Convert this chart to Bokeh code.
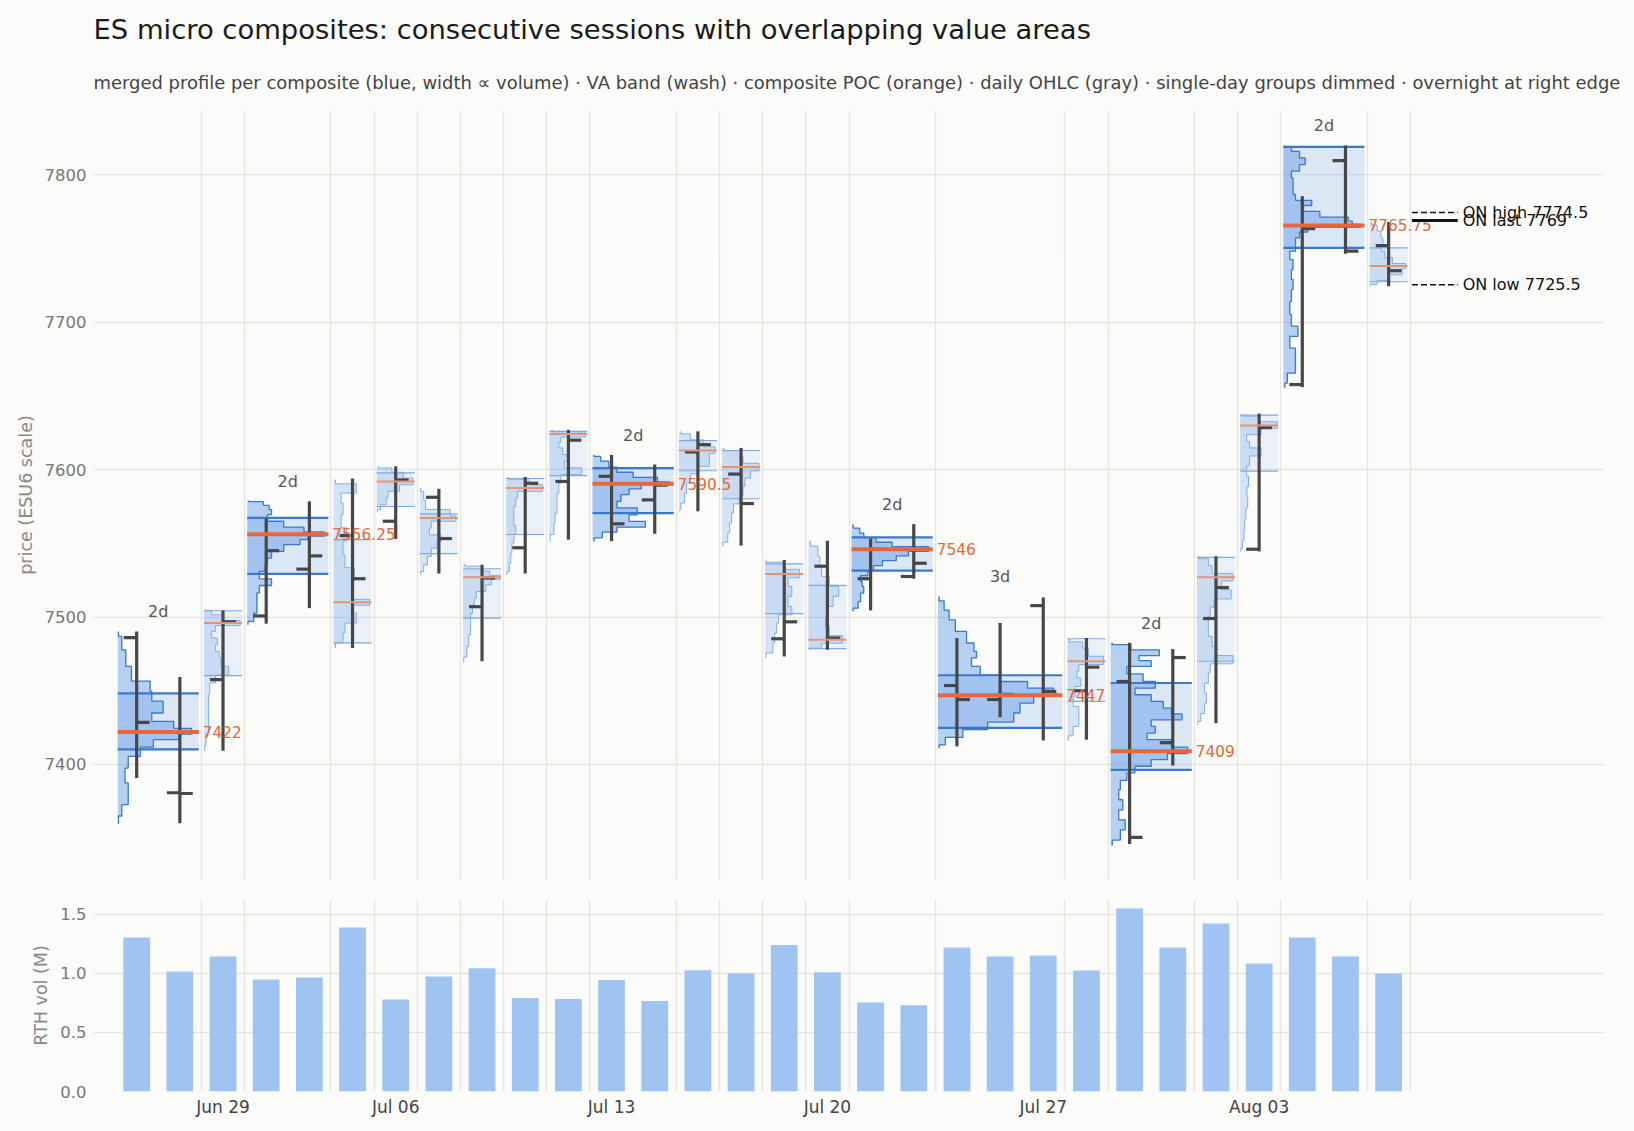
import numpy as np
from bokeh.plotting import figure
from bokeh.models import Range1d, FixedTicker, Title, PrintfTickFormatter, Spacer
from bokeh.layouts import column, row
from bokeh.embed import file_html
from bokeh.resources import INLINE
from bokeh.core.properties import value

TITLE = "ES micro composites: consecutive sessions with overlapping value areas"
SUBTITLE = ("merged profile per composite (blue, width \u221d volume) \u00b7 VA band (wash) \u00b7 "
            "composite POC (orange) \u00b7 daily OHLC (gray) \u00b7 single-day groups dimmed \u00b7 "
            "overnight at right edge")

# ---------------- sessions (RTH) ----------------
sessions = ["Jun 25", "Jun 26", "Jun 29", "Jun 30", "Jul 01", "Jul 02", "Jul 06", "Jul 07", "Jul 08",
            "Jul 09", "Jul 10", "Jul 13", "Jul 14", "Jul 15", "Jul 16", "Jul 17", "Jul 20", "Jul 21",
            "Jul 22", "Jul 23", "Jul 24", "Jul 27", "Jul 28", "Jul 29", "Jul 30", "Jul 31", "Aug 03",
            "Aug 04", "Aug 05", "Aug 06"]
opens = [7486, 7380.75, 7457.5, 7500.75, 7532.5, 7555.25, 7565, 7581.25, 7507, 7547, 7592, 7595.5,
         7579.5, 7612, 7597, 7485.25, 7534.5, 7526, 7527.5, 7453.5, 7444, 7507.75, 7450, 7456.25,
         7414.75, 7499, 7546, 7657.75, 7809.75, 7752]
highs = [7490.25, 7459.25, 7504.5, 7566.75, 7578.5, 7594, 7602.25, 7587, 7535.5, 7595, 7627, 7610,
         7603.5, 7626, 7614.75, 7538.75, 7551.75, 7553.25, 7563, 7485.75, 7496, 7513.25, 7485.75,
         7482.5, 7478.25, 7541.25, 7638, 7785.5, 7820, 7768]
lows = [7390.75, 7360, 7409.25, 7495.5, 7506, 7479, 7553, 7529.5, 7470, 7529.5, 7552.5, 7551.5,
        7556.5, 7571.75, 7548.5, 7473.25, 7477.75, 7504.5, 7526, 7412.25, 7432, 7416.25, 7416.75,
        7346, 7399.25, 7428, 7544.5, 7656, 7746.5, 7724.5]
closes = [7428.5, 7380.25, 7496.75, 7545, 7541.5, 7526, 7593, 7553.25, 7526.5, 7590.75, 7620, 7563.25,
          7589.5, 7617, 7577, 7496.75, 7485.75, 7546, 7536.5, 7444, 7447.5, 7449.5, 7466, 7350.5,
          7472.5, 7520, 7628.5, 7763.5, 7748.25, 7735]
rth_vol_m = [1.305, 1.017, 1.144, 0.949, 0.966, 1.39, 0.78, 0.975, 1.045, 0.792, 0.783, 0.944, 0.766,
             1.028, 1.003, 1.241, 1.01, 0.755, 0.73, 1.22, 1.144, 1.153, 1.025, 1.551, 1.22, 1.424,
             1.085, 1.305, 1.144, 1.0]

week_ticks = [2, 6, 11, 16, 21, 26]
week_labels = ["Jun 29", "Jul 06", "Jul 13", "Jul 20", "Jul 27", "Aug 03"]
price_ticks = [7400, 7500, 7600, 7700, 7800]
vol_ticks = [0.0, 0.5, 1.0, 1.5]

# ---------------- composites ----------------
grp_first = [0, 2, 3, 5, 6, 7, 8, 9, 10, 11, 13, 14, 15, 16, 17, 19, 22, 23, 25, 26, 27, 29]
grp_last = [1, 2, 4, 5, 6, 7, 8, 9, 10, 12, 13, 14, 15, 16, 18, 21, 22, 24, 25, 26, 28, 29]
grp_vah = [7448.25, 7504.25, 7567.25, 7552.5, 7597.75, 7570, 7532.75, 7594, 7626, 7601, 7619.75,
           7613, 7536, 7521.5, 7554, 7460.5, 7485.25, 7455.25, 7540.5, 7637, 7819, 7750.5]
grp_val = [7410.25, 7460.25, 7529.25, 7482.5, 7575, 7543, 7499.25, 7556, 7596, 7570.5, 7599.25,
           7580.25, 7502.25, 7478.5, 7531.5, 7424.75, 7442.75, 7396.25, 7470, 7599, 7750.5, 7727.5]
grp_poc = [7422, 7496, 7556.25, 7510, 7592, 7567.25, 7527, 7587.5, 7624.25, 7590.5, 7613, 7601.75,
           7529.25, 7484.5, 7546, 7447, 7470, 7409, 7527, 7630, 7765.75, 7738.25]

# merged volume profiles: price level -> relative width (1 = full composite width)
pf01_px = [7490.25, 7483.5, 7472, 7461, 7452, 7447.5, 7438.25, 7431.5, 7427, 7422, 7419, 7414.5, 7409,
           7402, 7393, 7382, 7375, 7370.5, 7359.5]
pf01_w = [0.01, 0.05, 0.10, 0.17, 0.40, 0.42, 0.56, 0.42, 0.69, 0.91, 0.77, 0.44, 0.28, 0.13, 0.09,
          0.13, 0.13, 0.05, 0.01]
pf02_px = [7505, 7503.75, 7499.25, 7496, 7492.5, 7488, 7483.5, 7479, 7474.5, 7470, 7463, 7458.5, 7452,
           7443, 7434, 7425, 7416, 7409]
pf02_w = [0.05, 0.2, 0.5, 0.95, 0.3, 0.2, 0.35, 0.3, 0.4, 0.45, 0.65, 0.3, 0.15, 0.12, 0.12, 0.12,
          0.05, 0.02]
pf03_px = [7579, 7577.5, 7574, 7571.75, 7567.25, 7562.75, 7559.25, 7556.25, 7553.5, 7551.5, 7546.75,
           7542.25, 7537.75, 7533.25, 7528.75, 7523, 7519.75, 7513, 7506, 7499.25, 7494.75]
pf03_w = [0.02, 0.2, 0.27, 0.3, 0.25, 0.45, 0.7, 0.95, 0.75, 0.65, 0.45, 0.3, 0.25, 0.22, 0.15, 0.3,
          0.15, 0.12, 0.12, 0.08, 0.01]
pf04_px = [7593.25, 7587.5, 7580.75, 7574, 7565, 7556, 7547, 7538, 7529, 7520, 7514, 7510, 7506,
           7499.25, 7492.5, 7485.75, 7479]
pf04_w = [0.05, 0.6, 0.2, 0.25, 0.2, 0.35, 0.25, 0.3, 0.55, 0.5, 0.5, 0.95, 0.5, 0.6, 0.3, 0.25, 0.05]
pf05_px = [7602.25, 7600, 7596.5, 7592, 7587.5, 7583, 7578.5, 7574, 7571.5]
pf05_w = [0.05, 0.4, 0.7, 0.95, 0.6, 0.3, 0.25, 0.1, 0.02]
pf06_px = [7587.5, 7583, 7576, 7570, 7567.25, 7562.75, 7558, 7553.5, 7549, 7544.5, 7537.75, 7533,
           7528.75]
pf06_w = [0.02, 0.1, 0.15, 0.8, 0.95, 0.3, 0.25, 0.55, 0.45, 0.3, 0.2, 0.1, 0.02]
pf07_px = [7536, 7533, 7529.5, 7527, 7524, 7519.75, 7515, 7510.75, 7506, 7499.25, 7492.5, 7483.5,
           7476.75, 7469]
pf07_w = [0.05, 0.5, 0.7, 0.98, 0.75, 0.6, 0.35, 0.3, 0.25, 0.2, 0.2, 0.15, 0.1, 0.02]
pf08_px = [7595, 7592, 7587.5, 7583, 7578.5, 7571.75, 7565, 7559, 7553.5, 7547, 7540, 7533, 7528.75]
pf08_w = [0.05, 0.6, 0.95, 0.3, 0.25, 0.2, 0.2, 0.25, 0.2, 0.15, 0.12, 0.08, 0.02]
pf09_px = [7627, 7624.25, 7620, 7617, 7612.5, 7608, 7603.5, 7599, 7594.25, 7587.5, 7580.75, 7574,
           7567, 7560.5, 7551.5]
pf09_w = [0.1, 0.95, 0.3, 0.25, 0.35, 0.5, 0.4, 0.85, 0.3, 0.25, 0.2, 0.2, 0.15, 0.12, 0.02]
pf10_px = [7610, 7608, 7603.5, 7600, 7596.5, 7593, 7590.5, 7588.75, 7585.25, 7580.75, 7576.25,
           7571.75, 7567, 7562.75, 7559.25, 7556, 7551.5]
pf10_w = [0.02, 0.1, 0.2, 0.3, 0.5, 0.8, 0.95, 0.6, 0.45, 0.35, 0.3, 0.55, 0.45, 0.65, 0.3, 0.12, 0.02]
pf11_px = [7626, 7622.5, 7618, 7613, 7609, 7604.5, 7600, 7594.25, 7587.5, 7580.75, 7574, 7571.75]
pf11_w = [0.05, 0.3, 0.65, 0.95, 0.8, 0.8, 0.5, 0.3, 0.2, 0.15, 0.05, 0.02]
pf12_px = [7614.75, 7611, 7606.75, 7601.75, 7596.5, 7592, 7585.25, 7579.5, 7574, 7567.25, 7560.5,
           7553.5, 7548]
pf12_w = [0.05, 0.5, 0.55, 0.97, 0.75, 0.6, 0.55, 0.45, 0.3, 0.25, 0.2, 0.15, 0.02]
pf13_px = [7539, 7535.5, 7529.25, 7524, 7517.5, 7510.5, 7503.75, 7499.25, 7492.5, 7485.75, 7479,
           7472.25]
pf13_w = [0.02, 0.5, 0.9, 0.6, 0.7, 0.6, 0.7, 0.35, 0.3, 0.25, 0.2, 0.02]
pf14_px = [7551.75, 7544.5, 7537.75, 7531, 7524.25, 7517.5, 7510.5, 7503.75, 7497, 7490.25, 7484.5,
           7480, 7477.75]
pf14_w = [0.05, 0.25, 0.3, 0.35, 0.55, 0.8, 0.65, 0.5, 0.45, 0.55, 0.9, 0.35, 0.05]
pf15_px = [7562.75, 7558, 7555.75, 7552, 7549.5, 7546, 7543, 7540, 7536.5, 7533.25, 7529.5, 7526.5,
           7522, 7519.5, 7513, 7508, 7504]
pf15_w = [0.02, 0.1, 0.15, 0.3, 0.5, 0.95, 0.7, 0.55, 0.38, 0.27, 0.2, 0.11, 0.13, 0.15, 0.11, 0.08,
          0.02]
pf16_px = [7514, 7508, 7501.5, 7494.75, 7485.75, 7479, 7474.5, 7470, 7463, 7458.5, 7454, 7449.5,
           7447.5, 7445, 7438.25, 7431.5, 7426, 7421.25, 7415.5, 7411]
pf16_w = [0.01, 0.05, 0.09, 0.14, 0.23, 0.29, 0.31, 0.27, 0.34, 0.5, 0.72, 0.93, 0.95, 0.77, 0.66,
          0.61, 0.4, 0.2, 0.06, 0.01]
pf17_px = [7485.25, 7481, 7476.75, 7470, 7465.5, 7461, 7456.25, 7449.5, 7442.75, 7436, 7429, 7422.5,
           7416.25]
pf17_w = [0.05, 0.4, 0.55, 0.95, 0.3, 0.25, 0.35, 0.2, 0.15, 0.3, 0.3, 0.15, 0.02]
pf18_px = [7482.5, 7480, 7475.5, 7472, 7468.75, 7464.25, 7458.5, 7454, 7449.5, 7445, 7440.5, 7436,
           7432.5, 7428, 7423.5, 7419, 7414.5, 7409, 7405.5, 7401, 7396.5, 7392, 7386.25, 7379.5,
           7372.5, 7365.75, 7359, 7352.25, 7345]
pf18_w = [0.02, 0.25, 0.6, 0.35, 0.5, 0.2, 0.4, 0.55, 0.3, 0.5, 0.65, 0.75, 0.88, 0.5, 0.55, 0.45,
          0.75, 0.95, 0.7, 0.5, 0.3, 0.2, 0.12, 0.1, 0.15, 0.1, 0.18, 0.12, 0.02]
pf19_px = [7541.25, 7537.75, 7532, 7527, 7522, 7515, 7509.5, 7504, 7497, 7490.25, 7483.5, 7476.75,
           7471, 7465.5, 7458.5, 7451.75, 7445, 7438, 7431.25, 7427]
pf19_w = [0.05, 0.3, 0.4, 0.95, 0.65, 0.9, 0.45, 0.35, 0.3, 0.3, 0.4, 0.5, 0.95, 0.35, 0.3, 0.2, 0.25,
          0.2, 0.1, 0.02]
pf20_px = [7637.5, 7635, 7630, 7626, 7621.5, 7617, 7612.5, 7606, 7599, 7592, 7585, 7578, 7570, 7562,
           7555, 7549, 7544.5]
pf20_w = [0.05, 0.5, 0.98, 0.55, 0.17, 0.25, 0.55, 0.25, 0.17, 0.22, 0.18, 0.2, 0.15, 0.12, 0.1, 0.06,
          0.02]
pf21_px = [7820, 7818.25, 7813.75, 7809.25, 7804.75, 7800.25, 7795.75, 7789, 7784.5, 7781, 7777.5,
           7773, 7769.75, 7767.5, 7765.75, 7763, 7759.5, 7755, 7750.5, 7746, 7739, 7732.5, 7725.5,
           7718.75, 7709.75, 7700.75, 7694, 7687, 7678, 7669, 7662, 7655.5]
pf21_w = [0.02, 0.1, 0.2, 0.27, 0.2, 0.1, 0.12, 0.12, 0.15, 0.35, 0.25, 0.45, 0.8, 0.85, 0.95, 0.3,
          0.2, 0.15, 0.15, 0.08, 0.12, 0.1, 0.12, 0.1, 0.08, 0.1, 0.18, 0.08, 0.15, 0.15, 0.05, 0.02]
pf22_px = [7768, 7764, 7759.5, 7755, 7750.5, 7746, 7741.5, 7738.25, 7734.5, 7730, 7726.75, 7724.5]
pf22_w = [0.05, 0.2, 0.3, 0.35, 0.3, 0.4, 0.6, 0.95, 0.85, 0.5, 0.2, 0.02]

profile_px = [pf01_px, pf02_px, pf03_px, pf04_px, pf05_px, pf06_px, pf07_px, pf08_px, pf09_px, pf10_px,
              pf11_px, pf12_px, pf13_px, pf14_px, pf15_px, pf16_px, pf17_px, pf18_px, pf19_px, pf20_px,
              pf21_px, pf22_px]
profile_w = [pf01_w, pf02_w, pf03_w, pf04_w, pf05_w, pf06_w, pf07_w, pf08_w, pf09_w, pf10_w, pf11_w,
             pf12_w, pf13_w, pf14_w, pf15_w, pf16_w, pf17_w, pf18_w, pf19_w, pf20_w, pf21_w, pf22_w]

# overnight
on_high = 7774.5
on_last = 7769
on_low = 7725.5

# ---------------- style ----------------
FONT = "DejaVu Sans"
BG = "#fbfbf9"
GRID = "#e6e5e0"
BLUE = "#3d85e6"
HALF = 0.44
TICK = 0.3

x_range = Range1d(-1, 34)
boundaries = [l + 0.5 for l in grp_last]


def style_axes(fig):
    fig.background_fill_color = BG
    fig.border_fill_color = BG
    fig.outline_line_color = None
    for ax in fig.axis:
        ax.axis_line_color = None
        ax.major_tick_line_color = None
        ax.minor_tick_line_color = None
        ax.major_tick_out = 0
        ax.major_tick_in = 0
        ax.minor_tick_out = 0
        ax.minor_tick_in = 0
        ax.major_label_text_font = FONT
        ax.axis_label_text_font = FONT
        ax.axis_label_text_font_style = "normal"
    for g in fig.grid:
        g.grid_line_color = GRID
        g.grid_line_width = 1.4
    fig.xgrid.ticker = FixedTicker(ticks=boundaries)


p = figure(frame_width=1511, frame_height=769, x_range=x_range, y_range=Range1d(7321.9, 7843.7),
           x_axis_location=None, output_backend="svg", toolbar_location=None,
           min_border_left=70, min_border_right=22, min_border_bottom=10, min_border_top=0)
style_axes(p)
p.yaxis.ticker = FixedTicker(ticks=price_ticks)
p.ygrid.ticker = FixedTicker(ticks=price_ticks)
p.yaxis.axis_label = "price (ESU6 scale)"
p.yaxis.axis_label_text_font_size = "17.5px"
p.yaxis.axis_label_text_color = "#888888"
p.yaxis.axis_label_standoff = 6
p.yaxis.major_label_text_font_size = "16.5px"
p.yaxis.major_label_text_color = "#777777"
p.yaxis.major_label_standoff = 7

# spacer (closest to the frame), subtitle, title
p.add_layout(Title(text=" ", text_font=FONT, text_font_size="1px", standoff=1), "above")
p.add_layout(Title(text=SUBTITLE, text_font=FONT, text_font_size="17.95px", text_font_style="normal",
                   text_color="#444444", standoff=28), "above")
p.add_layout(Title(text=TITLE, text_font=FONT, text_font_size="27.4px", text_font_style="normal",
                   text_color="#1a1a1a", standoff=22), "above")

ng = len(grp_first)
left = [f - HALF for f in grp_first]
right = [l + HALF for l in grp_last]
multi = [l > f for f, l in zip(grp_first, grp_last)]


def step_outline(px, w, x0, span):
    order = np.argsort(px)
    pr = np.asarray(px, float)[order]
    ww = np.asarray(w, float)[order]
    edges = np.concatenate([[pr[0]], (pr[:-1] + pr[1:]) / 2.0, [pr[-1]]])
    xs, ys = [x0], [pr[0]]
    for i in range(len(pr)):
        xv = x0 + ww[i] * span
        xs += [xv, xv]
        ys += [edges[i], edges[i + 1]]
    xs.append(x0)
    ys.append(pr[-1])
    return xs, ys


for is_multi in (False, True):
    ids = [i for i in range(ng) if multi[i] == is_multi]
    band_alpha = 0.16 if is_multi else 0.09
    prof_alpha = 0.36 if is_multi else 0.2
    edge_col = "#3a78c8" if is_multi else "#85ade3"
    edge_w = 1.3 if is_multi else 1.0
    va_col = "#3a78c8" if is_multi else "#7fa9e0"
    va_w = 2.2 if is_multi else 1.2
    # VA wash
    p.quad(left=[left[i] for i in ids], right=[right[i] for i in ids],
           bottom=[grp_val[i] for i in ids], top=[grp_vah[i] for i in ids],
           fill_color=BLUE, fill_alpha=band_alpha, line_color=None)
    # profiles
    pxs, pys = [], []
    for i in ids:
        xs, ys = step_outline(profile_px[i], profile_w[i], left[i], right[i] - left[i])
        pxs.append(xs)
        pys.append(ys)
    p.patches(pxs, pys, fill_color=BLUE, fill_alpha=prof_alpha, line_color=None)
    p.multi_line([xs[1:-1] for xs in pxs], [ys[1:-1] for ys in pys], line_color=edge_col,
                 line_width=edge_w)
    # VA edges
    p.segment(x0=[left[i] for i in ids] * 2, x1=[right[i] for i in ids] * 2,
              y0=[grp_vah[i] for i in ids] + [grp_val[i] for i in ids],
              y1=[grp_vah[i] for i in ids] + [grp_val[i] for i in ids],
              line_color=va_col, line_width=va_w)

# daily OHLC
idx = list(range(len(sessions)))
OHLC_COL = "#474747"
p.segment(x0=idx, x1=idx, y0=lows, y1=highs, line_color=OHLC_COL, line_width=3.2)
p.segment(x0=[i - TICK for i in idx], x1=idx, y0=opens, y1=opens, line_color=OHLC_COL, line_width=3.2)
p.segment(x0=idx, x1=[i + TICK for i in idx], y0=closes, y1=closes, line_color=OHLC_COL, line_width=3.2)

# POC lines
for is_multi in (False, True):
    ids = [i for i in range(ng) if multi[i] == is_multi]
    p.segment(x0=[left[i] for i in ids], x1=[right[i] for i in ids],
              y0=[grp_poc[i] for i in ids], y1=[grp_poc[i] for i in ids],
              line_color="#e8663a" if is_multi else "#e89274",
              line_width=4.0 if is_multi else 2.0)

# labels for multi-day composites
mids = [i for i in range(ng) if multi[i]]
tops = [max(max(profile_px[i]), max(highs[grp_first[i]:grp_last[i] + 1])) for i in mids]
p.text(x=[(grp_first[i] + grp_last[i]) / 2 for i in mids], y=tops,
       text=["%dd" % (grp_last[i] - grp_first[i] + 1) for i in mids],
       text_font=value(FONT), text_font_size=value("16px"), text_color="#555555",
       text_align="center", text_baseline="bottom", y_offset=-10)
p.text(x=[right[i] for i in mids], y=[grp_poc[i] for i in mids],
       text=["%g" % grp_poc[i] for i in mids], x_offset=4,
       text_font=value(FONT), text_font_size=value("15.3px"), text_color="#e8663a",
       text_align="left", text_baseline="middle")

# overnight levels
on_x0 = len(sessions) - 1 + 0.54
on_x1 = len(sessions) - 1 + 1.6
p.segment(x0=[on_x0, on_x0], x1=[on_x1, on_x1], y0=[on_high, on_low], y1=[on_high, on_low],
          line_color="#111111", line_width=1.6, line_dash="6 3")
p.segment(x0=[on_x0], x1=[on_x1], y0=[on_last], y1=[on_last], line_color="#111111", line_width=3)
p.text(x=[on_x1] * 3, y=[on_high, on_last, on_low],
       text=["ON high %g" % on_high, "ON last %g" % on_last, "ON low %g" % on_low], x_offset=5,
       text_font=value(FONT), text_font_size=value("16px"), text_color="#111111",
       text_align="left", text_baseline="middle")

# ---------------- volume panel ----------------
v = figure(frame_width=1511, frame_height=192, x_range=x_range, y_range=Range1d(0, 1.627),
           output_backend="svg", toolbar_location=None,
           min_border_left=70, min_border_right=22, min_border_top=10, min_border_bottom=28)
style_axes(v)
v.vbar(x=idx, top=rth_vol_m, width=0.62, fill_color="#a0c4f2", line_color=None)
v.yaxis.ticker = FixedTicker(ticks=vol_ticks)
v.ygrid.ticker = FixedTicker(ticks=vol_ticks)
v.yaxis.formatter = PrintfTickFormatter(format="%.1f")
v.yaxis.axis_label = "RTH vol (M)"
v.yaxis.axis_label_text_font_size = "17.5px"
v.yaxis.axis_label_text_color = "#888888"
v.yaxis.axis_label_standoff = 6
v.yaxis.major_label_text_font_size = "16.5px"
v.yaxis.major_label_text_color = "#777777"
v.yaxis.major_label_standoff = 7
v.xaxis.ticker = FixedTicker(ticks=week_ticks)
v.xaxis.major_label_overrides = {t: lab for t, lab in zip(week_ticks, week_labels)}
v.xaxis.major_label_text_font_size = "17px"
v.xaxis.major_label_text_color = "#444444"
v.xaxis.major_label_standoff = 5

layout = row(Spacer(width=12, height=10), column(p, v, spacing=0), spacing=0)
layout.styles = {"background-color": BG}
html = file_html(layout, INLINE, title="ES micro composites")
html = html.replace("<body>", '<body style="background-color:%s">' % BG)
open("out.html", "w").write(html)
